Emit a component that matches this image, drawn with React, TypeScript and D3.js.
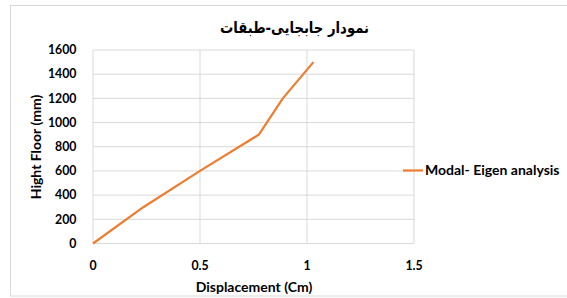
import React from "react";
import * as d3 from "d3";

const displacement = [0, 0.235, 0.5, 0.775, 0.887, 1.03];
const height = [0, 300, 600, 900, 1200, 1500];
const xTicks = [0, 0.5, 1, 1.5];
const yTicks = [0, 200, 400, 600, 800, 1000, 1200, 1400, 1600];
const seriesName = "Modal- Eigen analysis";
const title = "نمودار جابجایی-طبقات";

export default function App() {
  const W = 567, H = 298;
  const x = d3.scaleLinear().domain([0, 1.5]).range([93, 414]);
  const y = d3.scaleLinear().domain([0, 1600]).range([243.5, 50]);
  const line = d3.line<number>().x((_, i) => x(displacement[i])).y((d) => y(d));
  const font = "Lato, 'Open Sans', sans-serif";
  return (
    <svg width={W} height={H} style={{ position: "absolute", left: 0, top: 0, background: "#fff" }}>
      <rect x={10.5} y={5.5} width={600} height={290.5} fill="#fff" stroke="#d9d9d9" />
      <text x={294.5} y={33} textAnchor="middle" fontFamily="'DejaVu Sans', sans-serif" fontWeight="bold" fontSize={15.5} textLength={149} lengthAdjust="spacingAndGlyphs" fill="#000" direction="rtl">{title}</text>
      {yTicks.map((t) => (
        <line key={"gy" + t} x1={x(0)} x2={x(1.5)} y1={y(t)} y2={y(t)} stroke="#d9d9d9" strokeWidth={1} />
      ))}
      {xTicks.map((t) => (
        <line key={"gx" + t} x1={x(t)} x2={x(t)} y1={y(0)} y2={y(1600)} stroke="#d9d9d9" strokeWidth={1} />
      ))}
      {yTicks.map((t) => (
        <text key={"ly" + t} x={76.5} y={y(t)} dy="0.35em" textAnchor="end" fontFamily={font} fontWeight="bold" fontSize={12.3} fill="#000">{t}</text>
      ))}
      {xTicks.map((t) => (
        <text key={"lx" + t} x={x(t)} y={266} dy="0.35em" textAnchor="middle" fontFamily={font} fontWeight="bold" fontSize={12.3} fill="#000">{t}</text>
      ))}
      <text x={254} y={287} dy="0.35em" textAnchor="middle" fontFamily={font} fontWeight="bold" fontSize={14} fill="#000">Displacement (Cm)</text>
      <text transform={`translate(36,147) rotate(-90)`} dy="0.35em" textAnchor="middle" fontFamily={font} fontWeight="bold" fontSize={14} fill="#000">Hight Floor (mm)</text>
      <path d={line(height) || ""} fill="none" stroke="#ed7d31" strokeWidth={2.2} strokeLinejoin="round" />
      <line x1={403} x2={423} y1={170.5} y2={170.5} stroke="#ed7d31" strokeWidth={2.2} />
      <text x={425} y={170.5} dy="0.35em" fontFamily={font} fontWeight="bold" fontSize={14} fill="#000">{seriesName}</text>
    </svg>
  );
}
